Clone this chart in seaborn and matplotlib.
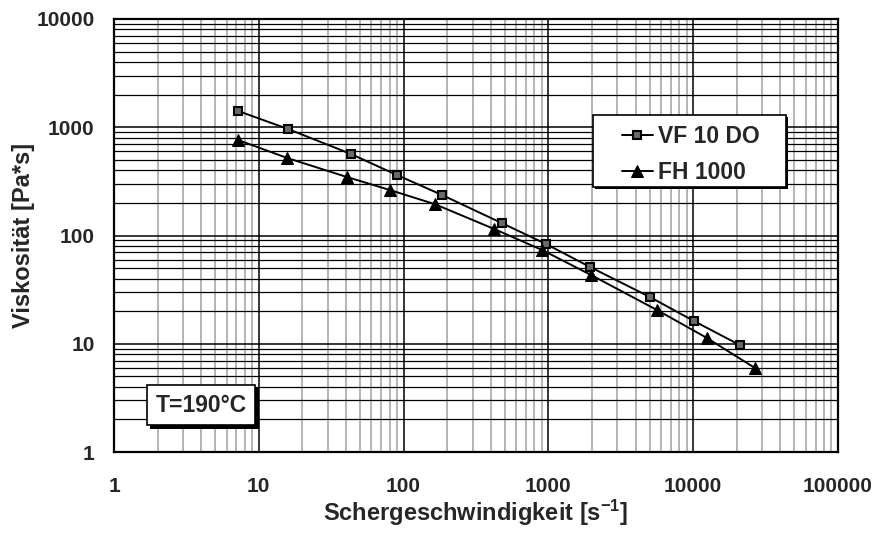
import numpy as np
import pandas as pd
import matplotlib
matplotlib.use("Agg")
import matplotlib.pyplot as plt
import matplotlib.ticker as mticker
import matplotlib.patheffects as pe
from matplotlib.patches import Rectangle
import seaborn as sns

# Flow curves at T = 190 °C
shear_vf = [7.2, 15.9, 43.3, 90, 184, 478, 962, 1938, 5030, 10130, 21050]
visc_vf = [1413, 964, 566, 362, 237, 130, 83.5, 51.2, 27.0, 16.2, 9.7]

shear_fh = [7.2, 15.7, 40.6, 80.5, 164, 421, 904, 1968, 5620, 12450, 26700]
visc_fh = [762, 520, 347, 263, 195, 115, 73.5, 43.2, 20.5, 11.3, 5.97]

series_names = ["VF 10 DO", "FH 1000"]
x_ticks = [1, 10, 100, 1000, 10000, 100000]
y_ticks = [1, 10, 100, 1000, 10000]

df_vf = pd.DataFrame({"shear": shear_vf, "visc": visc_vf})
df_fh = pd.DataFrame({"shear": shear_fh, "visc": visc_fh})

sns.set_style("white")
plt.rcParams["font.family"] = ["Liberation Sans", "DejaVu Sans"]
plt.rcParams["font.weight"] = "bold"
plt.rcParams["mathtext.fontset"] = "custom"
plt.rcParams["mathtext.rm"] = "Liberation Sans:bold"
plt.rcParams["mathtext.default"] = "rm"

fig = plt.figure(figsize=(8.76, 5.34), dpi=100)
ax = fig.add_axes([114 / 876, 82 / 534, 724 / 876, 433 / 534])

sns.lineplot(data=df_vf, x="shear", y="visc", ax=ax, color="black", lw=1.4,
             marker="s", markersize=5.5, markerfacecolor="#6a6a6a",
             markeredgecolor="black", markeredgewidth=1.5,
             label=series_names[0], sort=False, zorder=5)
sns.lineplot(data=df_fh, x="shear", y="visc", ax=ax, color="black", lw=1.4,
             marker="^", markersize=8, markerfacecolor="black",
             markeredgecolor="black", label=series_names[1], sort=False,
             zorder=5)

ax.set_xscale("log")
ax.set_yscale("log")
ax.set_xlim(x_ticks[0], x_ticks[-1])
ax.set_ylim(y_ticks[0], y_ticks[-1])

ax.xaxis.set_major_locator(mticker.FixedLocator(x_ticks))
ax.yaxis.set_major_locator(mticker.FixedLocator(y_ticks))
fmt = mticker.FuncFormatter(lambda v, _: f"{v:g}")
ax.xaxis.set_major_formatter(fmt)
ax.yaxis.set_major_formatter(fmt)
ax.xaxis.set_minor_locator(mticker.LogLocator(base=10, subs=np.arange(2, 10)))
ax.yaxis.set_minor_locator(mticker.LogLocator(base=10, subs=np.arange(2, 10)))
ax.xaxis.set_minor_formatter(mticker.NullFormatter())
ax.yaxis.set_minor_formatter(mticker.NullFormatter())

ax.set_axisbelow(True)
ax.grid(which="minor", axis="x", color="#a0a0a0", lw=1.1)
ax.grid(which="minor", axis="y", color="black", lw=0.9)
ax.grid(which="major", axis="both", color="black", lw=1.1)

ax.tick_params(which="major", direction="out", length=6, width=1.2,
               color="black", labelsize=15, pad=8)
ax.tick_params(axis="x", which="major", pad=12)
ax.tick_params(which="minor", length=0)
for lab in ax.get_xticklabels() + ax.get_yticklabels():
    lab.set_fontweight("bold")

for sp in ax.spines.values():
    sp.set_visible(True)
    sp.set_color("black")
    sp.set_linewidth(1.6)

ax.set_xlabel("Schergeschwindigkeit [s$^{-1}$]", fontsize=17,
              fontweight="bold", labelpad=1)
ax.set_ylabel("Viskosität [Pa*s]", fontsize=17, fontweight="bold",
              labelpad=1)

# legend frame drawn as its own box with a hard shadow
lx0, lx1 = (593 - 114) / 724, (786 - 114) / 724
ly0, ly1 = (452 - 187) / 433, (452 - 115) / 433
frame = Rectangle((lx0, ly0), lx1 - lx0, ly1 - ly0, transform=ax.transAxes,
                  facecolor="white", edgecolor="black", lw=1.2, zorder=9)
frame.set_path_effects([
    pe.SimplePatchShadow(offset=(1.5, -1.5), shadow_rgbFace="black", alpha=1.0),
    pe.Normal(),
])
ax.add_patch(frame)

leg = ax.legend(loc="center", bbox_to_anchor=((lx0 + lx1) / 2 + 0.002, (ly0 + ly1) / 2 - 0.008),
                borderaxespad=0, frameon=False,
                prop={"size": 16.5, "weight": "bold"}, handlelength=1.35,
                handletextpad=0.25, labelspacing=0.6, borderpad=0.2)
leg.set_zorder(10)

t = ax.text(0.12, 0.1085, "T=190°C", transform=ax.transAxes, fontsize=16.5,
            fontweight="bold", ha="center", va="center", zorder=10,
            bbox=dict(boxstyle="square,pad=0.38", facecolor="white",
                      edgecolor="black", linewidth=1.2))
t.get_bbox_patch().set_path_effects([
    pe.SimplePatchShadow(offset=(2.5, -2.5), shadow_rgbFace="black", alpha=1.0),
    pe.Normal(),
])

fig.savefig("out.png", dpi=100, facecolor="white")
